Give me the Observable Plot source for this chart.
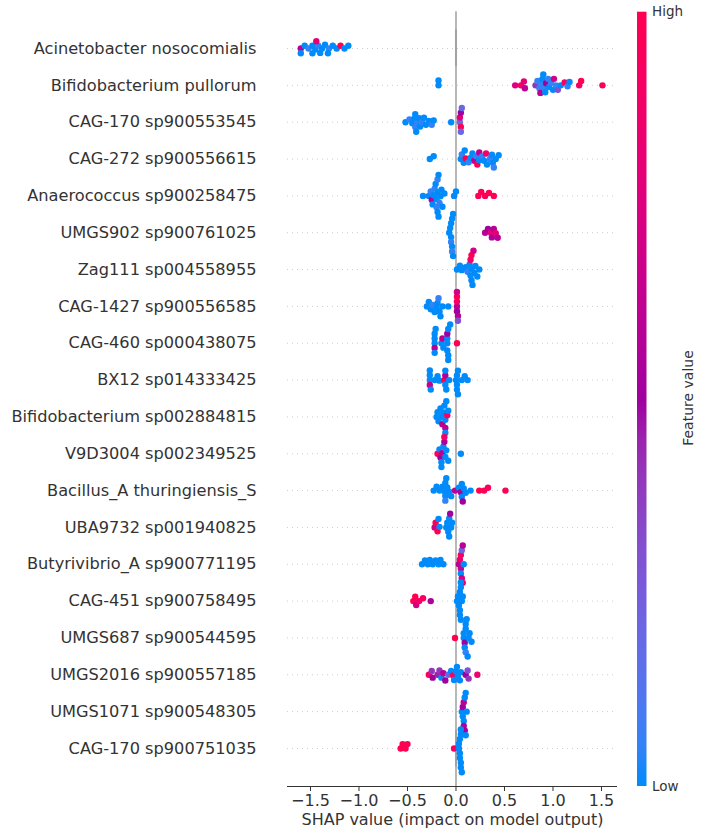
<!DOCTYPE html>
<html>
<head>
<meta charset="utf-8">
<script src="https://cdn.jsdelivr.net/npm/d3@7"></script>
<script src="https://cdn.jsdelivr.net/npm/@observablehq/plot@0.6"></script>
<style>
  html, body { margin: 0; padding: 0; background: #fff; }
  #wrap { position: relative; width: 705px; height: 828px; }
  #wrap svg { position: absolute; left: 0; top: 0; }
</style>
</head>
<body>
<div id="wrap"></div>
<script>
const features = [
  "Acinetobacter nosocomialis",
  "Bifidobacterium pullorum",
  "CAG-170 sp900553545",
  "CAG-272 sp900556615",
  "Anaerococcus sp900258475",
  "UMGS902 sp900761025",
  "Zag111 sp004558955",
  "CAG-1427 sp900556585",
  "CAG-460 sp000438075",
  "BX12 sp014333425",
  "Bifidobacterium sp002884815",
  "V9D3004 sp002349525",
  "Bacillus_A thuringiensis_S",
  "UBA9732 sp001940825",
  "Butyrivibrio_A sp900771195",
  "CAG-451 sp900758495",
  "UMGS687 sp900544595",
  "UMGS2016 sp900557185",
  "UMGS1071 sp900548305",
  "CAG-170 sp900751035"
];

// SHAP values per feature (one array per row, same order as features)
const shapValues = [
  [-1.60,-1.56,-1.52,-1.48,-1.45,-1.42,-1.38,-1.35,-1.31,-1.27,-1.23,-1.19,-1.15,-1.11,-1.60,-1.48,-1.44,-1.40,-1.32],
  [-0.18,-0.18,0.61,0.67,0.70,0.71,0.82,0.84,0.86,0.87,0.88,0.89,0.90,0.91,0.92,0.93,0.95,0.96,0.98,1.00,1.01,1.03,1.05,1.08,1.12,1.15,1.17,1.27,1.29,1.51],
  [-0.52,-0.48,-0.45,-0.43,-0.42,-0.42,-0.41,-0.40,-0.38,-0.37,-0.35,-0.33,-0.31,-0.28,-0.25,-0.23,-0.05,0.04,0.04,0.05,0.05,0.05,0.06],
  [-0.27,-0.23,0.05,0.06,0.08,0.09,0.10,0.13,0.15,0.17,0.19,0.21,0.22,0.24,0.24,0.27,0.29,0.31,0.32,0.35,0.37,0.38,0.39,0.41,0.44],
  [-0.34,-0.28,-0.26,-0.25,-0.24,-0.23,-0.22,-0.21,-0.20,-0.20,-0.19,-0.19,-0.19,-0.18,-0.18,-0.17,-0.16,-0.15,-0.14,-0.12,-0.02,0.00,0.23,0.26,0.30,0.34,0.39],
  [-0.07,-0.06,-0.05,-0.05,-0.05,-0.04,-0.04,-0.04,-0.03,-0.03,0.30,0.33,0.36,0.37,0.39,0.41,0.43],
  [0.01,0.04,0.06,0.10,0.12,0.14,0.15,0.15,0.16,0.16,0.16,0.17,0.18,0.19,0.20,0.22,0.24],
  [-0.30,-0.28,-0.26,-0.24,-0.22,-0.20,-0.19,-0.18,-0.17,-0.16,-0.14,-0.08,0.01,0.01,0.01,0.01,0.02,0.02,0.01],
  [-0.22,-0.22,-0.22,-0.22,-0.22,-0.21,-0.15,-0.14,-0.13,-0.09,-0.09,-0.09,-0.09,-0.08,-0.08,-0.08,-0.06,0.01],
  [-0.27,-0.27,-0.27,-0.27,-0.26,-0.22,-0.19,-0.17,-0.12,-0.11,-0.11,-0.11,-0.10,-0.07,0.00,0.01,0.01,0.01,0.02,0.02,0.06,0.09,0.12],
  [-0.20,-0.19,-0.18,-0.16,-0.15,-0.14,-0.13,-0.12,-0.11,-0.11,-0.11,-0.10,-0.09,-0.08],
  [-0.19,-0.17,-0.16,-0.15,-0.14,-0.13,-0.12,-0.11,-0.10,-0.08,0.05,-0.15,-0.12],
  [-0.23,-0.20,-0.17,-0.14,-0.12,-0.11,-0.11,-0.11,-0.10,-0.09,-0.07,-0.05,-0.01,0.03,0.05,0.06,0.06,0.07,0.08,0.10,0.15,0.24,0.29,0.33,0.51],
  [-0.22,-0.21,-0.19,-0.18,-0.17,-0.10,-0.09,-0.08,-0.07,-0.07,-0.06,-0.05,-0.04],
  [-0.35,-0.32,-0.29,-0.27,-0.24,-0.21,-0.18,-0.16,-0.13,0.03,0.04,0.05,0.05,0.05,0.06,0.06,0.07,0.07,0.08],
  [-0.44,-0.42,-0.41,-0.38,-0.34,-0.26,0.01,0.02,0.03,0.04,0.04,0.04,0.05,0.05,0.05,0.06,0.07],
  [-0.01,0.08,0.08,0.09,0.09,0.10,0.10,0.10,0.11,0.12,0.13,0.14,0.16],
  [-0.28,-0.25,-0.24,-0.19,-0.17,-0.15,-0.13,-0.11,-0.08,-0.05,-0.03,-0.02,0.00,0.01,0.02,0.04,0.05,0.10,0.12,0.13,0.22],
  [0.06,0.07,0.07,0.08,0.08,0.08,0.09,0.09,0.10,0.10,0.11],
  [-0.57,-0.55,-0.52,-0.50,-0.02,0.03,0.03,0.04,0.04,0.04,0.05,0.05,0.05,0.05,0.06]
];

// Feature values (0 = low, 1 = high), aligned with shapValues
const featureValues = [
  [0.6,0.0,0.05,0.0,0.0,0.05,0.0,0.0,0.05,0.0,0.0,1.0,0.0,0.0,0.0,0.0,0.8,0.0,0.0],
  [0.0,0.0,0.75,0.9,0.8,0.6,0.4,0.05,0.05,0.6,0.05,0.0,0.0,0.05,0.0,0.5,0.05,0.0,0.05,0.0,0.7,0.05,0.3,0.0,0.95,0.05,0.0,0.9,1.0,0.95],
  [0.0,0.05,0.0,0.0,0.05,0.0,0.0,0.05,0.0,0.0,0.05,0.0,0.0,0.0,0.05,0.0,0.0,0.2,0.8,1.0,0.2,0.5,0.2],
  [0.0,0.0,0.0,0.05,0.0,0.0,1.0,0.05,0.0,0.0,0.6,0.05,0.95,0.0,0.6,0.05,0.0,0.9,0.0,0.05,0.0,0.0,0.05,0.0,0.0],
  [0.0,0.0,0.05,0.6,0.0,0.0,0.05,0.0,0.0,0.05,0.0,0.0,0.05,0.0,0.0,0.05,0.0,0.0,0.0,0.0,0.0,0.0,1.0,1.0,0.95,1.0,1.0],
  [0.0,0.0,0.0,0.05,0.0,0.0,0.0,0.05,0.0,0.0,0.6,0.5,0.8,0.55,0.6,0.8,0.6],
  [0.0,0.0,0.0,0.0,0.05,0.0,0.0,0.9,0.0,0.0,1.0,0.0,0.7,0.0,0.0,0.0,0.0],
  [0.0,0.0,0.0,0.05,0.0,0.0,0.0,0.05,0.0,0.0,0.0,0.0,0.6,0.9,0.5,1.0,0.6,0.3,0.7],
  [0.0,0.0,0.6,0.0,0.0,0.0,0.0,0.6,0.0,0.0,0.0,0.0,0.5,0.0,0.0,0.0,0.0,1.0],
  [0.0,0.0,0.65,0.0,0.0,0.0,0.0,0.0,1.0,0.55,0.0,0.0,0.0,0.0,0.0,0.0,0.0,0.0,0.0,0.0,0.0,0.0,0.0],
  [0.0,0.0,0.0,0.0,0.0,0.6,0.0,0.0,0.0,0.6,0.0,0.0,0.9,0.0],
  [0.95,0.0,0.5,0.0,0.6,0.0,0.55,0.0,0.0,0.0,0.0,0.0,0.9],
  [0.0,0.0,0.0,0.0,0.0,0.0,0.0,0.05,0.0,0.0,0.0,0.0,0.6,0.0,0.55,0.0,0.0,0.5,0.0,0.0,0.0,1.0,1.0,0.95,1.0],
  [0.7,0.95,1.0,0.0,0.0,0.0,0.0,0.0,0.0,0.0,0.5,0.0,0.0],
  [0.0,0.0,0.0,0.0,0.0,0.0,0.0,0.0,0.0,0.6,0.85,0.65,0.0,0.9,0.7,0.2,0.85,0.6,0.0],
  [1.0,1.0,0.7,0.9,0.95,0.55,0.0,0.0,0.0,0.0,0.0,0.0,0.0,0.0,0.0,0.0,0.0],
  [1.0,0.0,0.0,0.5,0.0,0.0,0.0,0.05,0.0,0.0,0.0,0.0,0.0],
  [0.9,0.4,0.5,0.45,0.4,0.0,0.6,0.5,0.2,0.0,0.9,0.0,0.0,0.0,0.0,0.0,0.0,0.5,0.3,0.4,0.85],
  [0.0,0.5,0.0,0.6,0.0,0.55,0.0,0.5,0.0,0.0,0.0],
  [1.0,1.0,1.0,1.0,0.95,0.0,0.0,0.0,0.0,0.0,0.0,0.0,0.0,0.0,0.0]
];

const xTicks = [-1.5, -1.0, -0.5, 0.0, 0.5, 1.0, 1.5];
const xDomain = [-1.737, 1.665];
const colorLow = "#008bfb";
const colorMid = "#a0009f";
const colorHigh = "#ff0052";
const xLabel = "SHAP value (impact on model output)";
const legendLabels = {high: "High", low: "Low", title: "Feature value"};

// Build a tidy table for Plot
const points = [];
features.forEach((f, i) => {
  shapValues[i].forEach((s, j) => {
    points.push({feature: f, shap: s, value: featureValues[i][j]});
  });
});

const W = 705, H = 828;
const mTop = 29.6, mBottom = 61.6, mLeft = 287, mRight = 88;
const half = (H - mTop - mBottom) / features.length / 2;
const axisGap = 19.6; // distance from last band bottom to the bottom spine
const first = features[0], last = features[features.length - 1];
const font = "DejaVu Sans, sans-serif";

const plot = Plot.plot({
  width: W,
  height: H,
  marginTop: mTop,
  marginBottom: mBottom,
  marginLeft: mLeft,
  marginRight: mRight,
  style: {fontFamily: font, background: "white", overflow: "visible"},
  x: {domain: xDomain},
  y: {domain: [0, 1], axis: null},
  fy: {domain: features, padding: 0, round: false},
  color: {type: "linear", domain: [0, 0.5, 1], range: [colorLow, colorMid, colorHigh], interpolate: "hcl"},
  marks: [
    Plot.ruleY([0.5], {stroke: "#cccccc", strokeWidth: 1, strokeDasharray: "1,4"}),
    Plot.ruleX([0], {stroke: "#999999", strokeWidth: 1.4}),
    Plot.ruleX([0], {fy: [first], stroke: "#999999", strokeWidth: 1.4, insetTop: -half}),
    Plot.ruleX([0], {fy: [last], stroke: "#999999", strokeWidth: 1.4, insetBottom: -axisGap}),
    Plot.dot(points, Plot.dodgeY({anchor: "middle", padding: -1.6}, {x: "shap", fy: "feature", fill: "value", r: 3.2})),
    Plot.ruleY([0], {fy: [last], stroke: "#333333", strokeWidth: 1, dy: axisGap}),
    Plot.axisX({
      ticks: xTicks,
      tickFormat: d3.format(".1f"),
      tickSize: 5,
      tickPadding: 3,
      fontSize: 16,
      color: "#333333",
      dy: axisGap,
      label: xLabel,
      labelAnchor: "center",
      labelArrow: "none",
      labelOffset: 58
    }),
    Plot.axisFy({
      anchor: "left",
      tickSize: 0,
      tickPadding: 31,
      fontSize: 16.2,
      color: "#333333",
      label: null
    })
  ]
});

const wrap = document.getElementById("wrap");
wrap.appendChild(plot);

// Colour bar legend
const cb = d3.select(wrap).append("svg")
  .attr("width", W).attr("height", H)
  .style("pointer-events", "none")
  .style("font-family", font);
const grad = cb.append("defs").append("linearGradient")
  .attr("id", "cbgrad").attr("x1", 0).attr("y1", 1).attr("x2", 0).attr("y2", 0);
const interp = d3.piecewise(d3.interpolateHcl, [colorLow, colorMid, colorHigh]);
d3.range(0, 1.0001, 0.05).forEach(t => {
  grad.append("stop").attr("offset", t).attr("stop-color", interp(t));
});
const cbTop = 11.7, cbBottom = 786, cbX = 637, cbW = 9.5;
cb.append("rect").attr("x", cbX).attr("y", cbTop).attr("width", cbW)
  .attr("height", cbBottom - cbTop).attr("fill", "url(#cbgrad)");
cb.append("text").attr("x", 652).attr("y", cbTop).attr("dy", "0.35em")
  .attr("font-size", 13.5).attr("fill", "#333").text(legendLabels.high);
cb.append("text").attr("x", 652).attr("y", cbBottom).attr("dy", "0.35em")
  .attr("font-size", 13.5).attr("fill", "#333").text(legendLabels.low);
cb.append("text").attr("transform", "translate(688,398) rotate(-90)")
  .attr("text-anchor", "middle").attr("dy", "0.35em")
  .attr("font-size", 14).attr("fill", "#333").text(legendLabels.title);
</script>
</body>
</html>
